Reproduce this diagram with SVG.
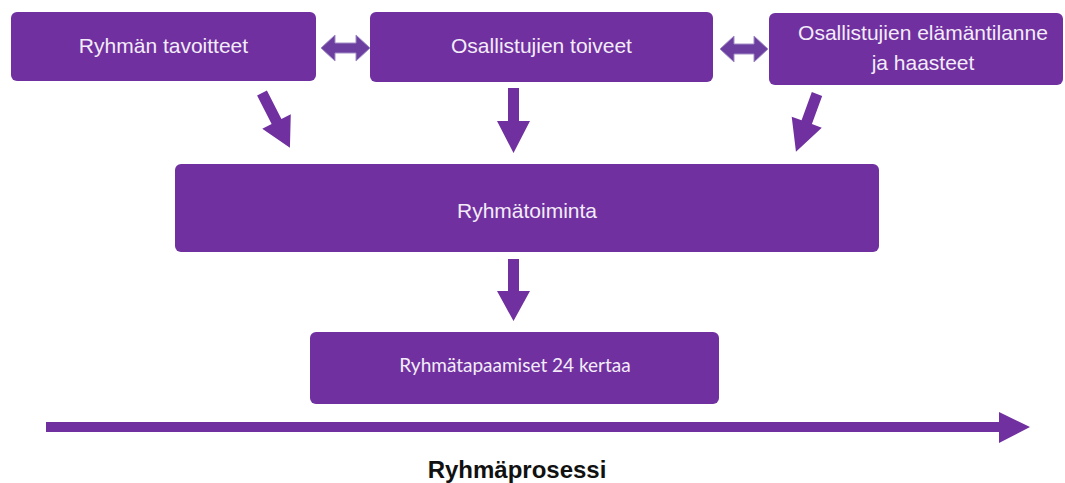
<svg xmlns="http://www.w3.org/2000/svg" width="1065" height="483" viewBox="0 0 1065 483">
  <style>
    .box { fill: #7030A0; }
    .lbl { fill: #F3ECF8; font-family: "Liberation Sans", Arial, sans-serif; font-size: 21px; text-anchor: middle; }
    .lbl2 { fill: #F3ECF8; font-family: Lato, "Open Sans", sans-serif; font-size: 19px; text-anchor: middle; }
    .arr { fill: #7030A0; }
    .dbl { fill: #6B3E9F; stroke: #A28CC6; stroke-width: 1; }
    .title { fill: #111; font-family: "Liberation Sans", Arial, sans-serif; font-size: 24px; font-weight: bold; text-anchor: middle; }
  </style>
  <rect width="1065" height="483" fill="#ffffff"/>

  <g id="node-tavoitteet">
    <rect class="box" x="11" y="12" width="305" height="69" rx="6"/>
    <text class="lbl" x="163.5" y="53">Ryhmän tavoitteet</text>
  </g>
  <g id="node-toiveet">
    <rect class="box" x="370" y="12" width="343" height="70" rx="6"/>
    <text class="lbl" x="541.5" y="53">Osallistujien toiveet</text>
  </g>
  <g id="node-elamantilanne">
    <rect class="box" x="769" y="13" width="294" height="72" rx="6"/>
    <text class="lbl" x="923" y="40">Osallistujien elämäntilanne</text>
    <text class="lbl" x="923" y="70">ja haasteet</text>
  </g>
  <g id="node-ryhmatoiminta">
    <rect class="box" x="175" y="164" width="704" height="88" rx="6"/>
    <text class="lbl" x="527" y="218">Ryhmätoiminta</text>
  </g>
  <g id="node-tapaamiset">
    <rect class="box" x="310" y="332" width="409" height="72" rx="6"/>
    <text class="lbl2" x="515" y="372">Ryhmätapaamiset 24 kertaa</text>
  </g>

  <g id="connectors">
    <path class="dbl" d="M321,48 L335,35 L335,43 L356,43 L356,35 L370,48 L356,61 L356,53 L335,53 L335,61 Z"/>
    <path class="dbl" d="M720,49 L734,36 L734,44 L754,44 L754,36 L768,49 L754,62 L754,54 L734,54 L734,62 Z"/>
    <path class="arr" transform="translate(262,93) rotate(-27)" d="M-5.5,0 L5.5,0 L5.5,32 L16,32 L0,61.5 L-16,32 L-5.5,32 Z"/>
    <path class="arr" transform="translate(513.5,88)" d="M-5.5,0 L5.5,0 L5.5,33 L16.5,33 L0,65 L-16.5,33 L-5.5,33 Z"/>
    <path class="arr" transform="translate(817,94) rotate(20)" d="M-5.5,0 L5.5,0 L5.5,30 L16,30 L0,61.5 L-16,30 L-5.5,30 Z"/>
    <path class="arr" transform="translate(513.5,259)" d="M-5.5,0 L5.5,0 L5.5,32 L16.5,32 L0,62 L-16.5,32 L-5.5,32 Z"/>
    <path class="arr" d="M46,422 H999 V412 L1030,427 L999,443 V432 H46 Z"/>
  </g>

  <text class="title" x="517" y="478">Ryhmäprosessi</text>
</svg>
